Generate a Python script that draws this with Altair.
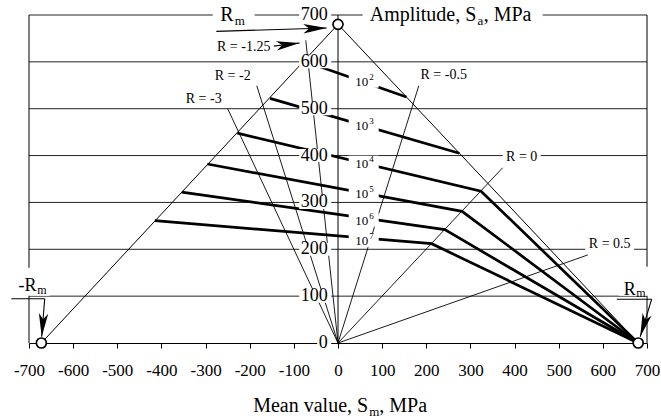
import math
import altair as alt
import pandas as pd

FONT = "Liberation Serif"

# ---------------- data ----------------
x_ticks = list(range(-700, 701, 100))
y_ticks = list(range(0, 701, 100))
grid_values = list(range(100, 701, 100))

# Haigh limit lines (-Rm,0) -> (0,Rm) -> (Rm,0)
haigh_x = [-672, 0, 680]
haigh_y = [0, 680, 0]

# constant-life curves, N = 10^2 ... 10^7
life_exp = ["2", "3", "4", "5", "6", "7"]
life_x = [[-78, 155], [-154, 275], [-228, 324, 680], [-296, 281, 680],
          [-354, 242, 680], [-415, 212, 680]]
life_y = [[602, 525], [522, 405], [448, 324, 0], [382, 281, 0],
          [322, 242, 0], [261, 212, 0]]
life_label_y = [557.6, 463.7, 382.6, 317.5, 261.0, 217.3]

# stress-ratio rays from the origin
r_names = ["R = -1.25", "R = -2", "R = -3", "R = -0.5", "R = 0", "R = 0.5"]
r_end_x = [-73, -184, -250, 183, 373, 566]
r_end_y = [646, 549, 500, 549, 374, 188]
r_label_x = [-213.6, -238.5, -304.2, 239.5, 416.1, 615.4]
r_label_y = [632.6, 570.4, 521.2, 572.6, 397.6, 211.9]

# Rm markers
circle_x = [-672, 0, 680]
circle_y = [0, 680, 0]

# ---------------- layout helpers ----------------
X_DOMAIN = [-700, 700]
Y_DOMAIN = [0, 700]
W, H = 618, 328
XPP = (X_DOMAIN[1] - X_DOMAIN[0]) / W   # data units per pixel
YPP = (Y_DOMAIN[1] - Y_DOMAIN[0]) / H

CW = {"R": .667, " ": .25, "=": .564, "-": .333, ".": .25}
def text_w(s, fs):
    return sum(CW.get(c, .5) for c in s) * fs

texts, boxes = [], []
def T(x, y, s, fs, align="center", base="middle"):
    texts.append(dict(x=x, y=y, t=s, fs=fs, align=align, base=base))
def B(xc, yc, wpx, hpx):
    boxes.append(dict(x=xc - wpx / 2 * XPP, x2=xc + wpx / 2 * XPP,
                      y=yc - hpx / 2 * YPP, y2=yc + hpx / 2 * YPP))

# y tick labels in the middle
for v in y_ticks:
    s = str(v)
    T(-23.3, v, s, 18, "right")
    w = 9 * len(s) + 5
    B(-15.4 - w / 2 * XPP, v, w, 13)

# cycle labels 10^n
for e, ly in zip(life_exp, life_label_y):
    T(53.7, ly, "10", 13)
    T(70.7, ly + 5 * YPP, e, 9, "left")
    B(58.2, ly + 1 * YPP, 30, 14)

# R labels
for n, lx, ly in zip(r_names, r_label_x, r_label_y):
    T(lx, ly, n, 14)
    B(lx, ly, text_w(n, 14) + 7, 14)

# Rm labels
T(-236.3, 686.3, "R", 20, "right", "alphabetic")
T(-234.0, 679.3, "m", 13, "left", "alphabetic")
B(-236.3, 698.5, 42, 22)
T(-683.2, 110.1, "-R", 18, "right", "alphabetic")
T(-681.4, 104.1, "m", 12, "left", "alphabetic")
B(-696.1, 130.8, 38, 28)
T(674.4, 103.1, "R", 18, "right", "alphabetic")
T(675.6, 97.7, "m", 12, "left", "alphabetic")
B(676.7, 131.8, 36, 29)

# axis titles
T(71.8, 686.3, "Amplitude, S", 20, "left", "alphabetic")
T(315.8, 679.3, "a", 13, "left", "alphabetic")
T(330.1, 686.3, ", MPa", 20, "left", "alphabetic")
B(259.8, 699.6, 180, 23)
T(68.4, -146.6, "Mean value, S", 20, "right", "alphabetic")
T(70.7, -155.2, "m", 13, "left", "alphabetic")
T(93.6, -146.6, ", MPa", 20, "left", "alphabetic")

# arrows (shafts) and heads
shafts = [(-275.5, 665, -25.6, 672.3), (-150.9, 633, -86.8, 640.2),
          (-739.9, 94.5, -664.4, 94.5), (-664.4, 94.5, -671.2, 13.4),
          (631.4, 93.5, 710.6, 93.5), (710.6, 93.5, 684.6, 13.4)]
head_idx = [0, 1, 3, 5]

# ---------------- tables ----------------
df_grid = pd.DataFrame({"y": grid_values, "x": -700, "x2": 700})
df_frame = pd.DataFrame({"x": [-700, 700, 0], "y": [0, 0, 0], "y2": [700, 700, 700]})
df_haigh = pd.DataFrame({"x": haigh_x, "y": haigh_y, "i": range(3)})
rows = []
for e, xs, ys in zip(life_exp, life_x, life_y):
    for i, (a, b) in enumerate(zip(xs, ys)):
        rows.append(dict(n=e, i=i, x=a, y=b))
df_life = pd.DataFrame(rows)
df_rays = pd.DataFrame({"x": 0, "y": 0, "x2": r_end_x, "y2": r_end_y})
df_shaft = pd.DataFrame(shafts, columns=["x", "y", "x2", "y2"])
heads = []
for k in head_idx:
    x1, y1, x2, y2 = shafts[k]
    ang = math.degrees(math.atan2(-(y2 - y1) / YPP, (x2 - x1) / XPP)) % 360
    heads.append(dict(x=x2, y=y2, a=ang))
df_heads = pd.DataFrame(heads)
df_box = pd.DataFrame(boxes)
df_text = pd.DataFrame(texts)
df_circ = pd.DataFrame({"x": circle_x, "y": circle_y})

# ---------------- encodings ----------------
xscale = alt.Scale(domain=X_DOMAIN, nice=False, zero=False)
yscale = alt.Scale(domain=Y_DOMAIN, nice=False, zero=False)
xaxis = alt.Axis(values=x_ticks, title=None, grid=False, domain=True,
                 domainColor="black", domainWidth=1.2, ticks=True,
                 tickColor="black", tickSize=5, tickWidth=1,
                 labelFont=FONT, labelFontSize=17, labelColor="black",
                 labelPadding=14, labelFlush=False, labelOverlap=False,
                 labelBound=False, labelExpr="'' + datum.value")

def X(f="x"):
    return alt.X(f + ":Q", scale=xscale, axis=xaxis)
def Y(f="y"):
    return alt.Y(f + ":Q", scale=yscale, axis=None)

grid = alt.Chart(df_grid).mark_rule(color="#222", strokeWidth=1).encode(
    x=X(), x2="x2:Q", y=Y())
frame = alt.Chart(df_frame).mark_rule(color="black", strokeWidth=1).encode(
    x=X(), y=Y(), y2="y2:Q")
haigh = alt.Chart(df_haigh).mark_line(color="black", strokeWidth=1).encode(
    x=X(), y=Y(), order="i:Q")
rays = alt.Chart(df_rays).mark_rule(color="black", strokeWidth=0.9).encode(
    x=X(), y=Y(), x2="x2:Q", y2="y2:Q")
life = alt.Chart(df_life).mark_line(color="black", strokeWidth=2.7).encode(
    x=X(), y=Y(), detail="n:N", order="i:Q")
shaft = alt.Chart(df_shaft).mark_rule(color="black", strokeWidth=1.1).encode(
    x=X(), y=Y(), x2="x2:Q", y2="y2:Q")
box = alt.Chart(df_box).mark_rect(color="white").encode(
    x=X(), x2="x2:Q", y=Y(), y2="y2:Q")

text_layers = []
for (al, bs), sub in df_text.groupby(["align", "base"]):
    text_layers.append(
        alt.Chart(sub).mark_text(align=al, baseline=bs, font=FONT,
                                 color="black", fill="black").encode(
            x=X(), y=Y(), text="t:N", size=alt.Size("fs:Q", scale=None)))

ARROW = "M0,0L-1,-0.2L-0.75,0L-1,0.2Z"
head = alt.Chart(df_heads).mark_point(shape=ARROW, filled=True, color="black",
                                      opacity=1).encode(
    x=X(), y=Y(), angle=alt.Angle("a:Q", scale=None),
    size=alt.value(2200))
circ = alt.Chart(df_circ).mark_point(shape="circle", filled=True, fill="white",
                                     stroke="black", strokeWidth=1.7, size=100,
                                     opacity=1).encode(x=X(), y=Y())

chart = alt.layer(grid, frame, haigh, rays, life, shaft, box, *text_layers,
                  head, circ).properties(
    width=W, height=H,
    padding={"left": 29, "top": 15, "right": 14, "bottom": 77},
    autosize=alt.AutoSizeParams(type="none"),
    background="white",
).configure_view(stroke=None)

chart.save("out.html", embed_options={"renderer": "svg", "actions": False})
